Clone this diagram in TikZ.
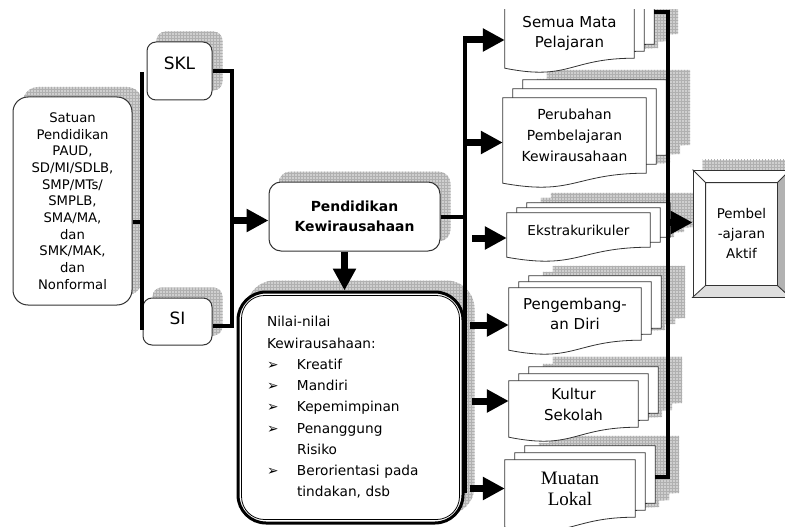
\documentclass[tikz,border=0pt]{standalone}
\usepackage{fontspec}
\setmainfont{DejaVu Sans}
\newfontfamily\lokalfont{Liberation Serif}
\usetikzlibrary{
    positioning,
    arrows.meta,
    calc,
    patterns
}
\pgfdeclarelayer{shade}
\pgfdeclarelayer{paper}
\pgfsetlayers{shade,paper,main}

\tikzset{
    hatch/.style={
        preaction={fill=gray!38}, pattern=grid, pattern color=gray!62
    },
    rbox/.style={
        draw=black!80, line width=1pt, fill=white, rounded corners=12pt,
        align=center
    },
    docnode/.style={
        rectangle, inner sep=0pt, align=center
    },
    docline/.style={
        draw=black!80, line width=0.8pt, fill=white
    },
    bar/.style={
        line width=4pt
    },
    bigarrow/.style={
        line width=7pt, -{Triangle[length=22pt, width=22pt]}
    }
}

% hatched shadow up and right of a box node
\newcommand{\boxshade}[2]{%
    \begin{pgfonlayer}{shade}
        \fill[gray!38, rounded corners=#2] ([shift={(10,-10)}]#1.north west) rectangle ([shift={(10,-10)}]#1.south east);
        \path[pattern=grid, pattern color=gray!62, rounded corners=#2] ([shift={(10,-10)}]#1.north west) rectangle ([shift={(10,-10)}]#1.south east);
    \end{pgfonlayer}
}

% one sheet of a document stack, shifted by (#2,#3)
\newcommand{\docpath}[3]{([shift={({#2},{#3})}]#1.north west) -- ([shift={({#2},{#3})}]#1.north east) -- ([shift={({#2},{#3})}]#1.south east) .. controls ([shift={({#2},{#3})}]#1.south) and ([shift={({#2},{#3+23})}]#1.south) .. ([shift={({#2},{#3+10})}]#1.south west) -- cycle}

% three sheets behind the text node #1, each raised by #2
\newcommand{\docstack}[2]{%
    \begin{pgfonlayer}{shade}
        \begin{scope}
            \clip (-10,10) rectangle (800,540);
            \foreach \k in {2,1,0}{\path[hatch] \docpath{#1}{\k*10+24}{-\k*#2-10};}
        \end{scope}
    \end{pgfonlayer}
    \begin{pgfonlayer}{paper}
        \begin{scope}
            \clip (-10,10) rectangle (800,540);
            \foreach \k in {2,1,0}{\draw[docline] \docpath{#1}{\k*10}{-\k*#2};}
        \end{scope}
    \end{pgfonlayer}
    \coordinate (#1 back) at ([xshift=20pt]#1.east);
}

\newcommand{\nbul}{\makebox[30pt][l]{➢}}

\begin{document}
\begin{tikzpicture}[x=1pt, y=-1pt, text=black]

    \useasboundingbox (0,0) rectangle (785,527);

    % LEFT BOXES
    \fill[gray!38, rounded corners=15pt] (23,87) rectangle (142,295);
    \path[pattern=grid, pattern color=gray!62, rounded corners=15pt] (23,87) rectangle (142,295);
    \node (satuan) [rbox, rounded corners=15pt, minimum width=119pt, minimum height=208pt,
        font=\fontsize{13.2}{16.7}\selectfont] at (72.5,201)
        {Satuan\\Pendidikan\\PAUD,\\SD/MI/SDLB,\\SMP/MTs/\\SMPLB,\\SMA/MA,\\dan\\SMK/MAK,\\dan\\Nonformal};
    \node (skl) [rbox, rounded corners=9pt, minimum width=65pt, minimum height=58pt,
        text depth=16pt, font=\fontsize{17}{20}\selectfont] at (179.5,71) {SKL};
    \boxshade{skl}{9pt}
    \node (si) [rbox, rounded corners=9pt, minimum width=69pt, minimum height=47pt,
        text depth=7pt, font=\fontsize{17}{20}\selectfont] at (177.5,321.5) {SI};
    \boxshade{si}{9pt}

    % MIDDLE
    \node (pendidikan) [rbox, minimum width=171pt, minimum height=69pt,
        font=\bfseries\fontsize{13.9}{20}\selectfont] at (354.5,216.5) {Pendidikan\\Kewirausahaan};
    \boxshade{pendidikan}{12pt}
    \node (nilai) [rbox, draw=black, line width=3pt, rounded corners=28pt,
        minimum width=225pt, minimum height=231pt, text width=167pt, align=left,
        font=\fontsize{13.7}{21.25}\selectfont] at (350.5,407.5)
        {Nilai-nilai\\Kewirausahaan:\\\nbul Kreatif\\\nbul Mandiri\\\nbul Kepemimpinan\\\nbul Penanggung\\\hspace*{30pt}Risiko\\\nbul Berorientasi pada\\\hspace*{30pt}tindakan, dsb};
    \boxshade{nilai}{28pt}
    \draw[line width=0.8pt, rounded corners=23pt] ([shift={(5,5)}]nilai.north west) rectangle ([shift={(-5,-5)}]nilai.south east);

    % DOCUMENTS
    \node (semua) [docnode, minimum width=129pt, minimum height=50pt,
        font=\fontsize{15}{20}\selectfont] at (569.5,33) {Semua Mata\\Pelajaran};
    \docstack{semua}{7}
    \node (perubahan) [docnode, minimum width=143pt, minimum height=75pt,
        font=\fontsize{13.9}{21}\selectfont] at (574.5,135.5) {Perubahan\\Pembelajaran\\Kewirausahaan};
    \docstack{perubahan}{9}
    \node (ekstra) [docnode, minimum width=143pt, minimum height=34pt,
        font=\fontsize{13.6}{20}\selectfont] at (578.5,230) {Ekstrakurikuler};
    \docstack{ekstra}{5}
    \node (pengembang) [docnode, minimum width=132pt, minimum height=52pt,
        font=\fontsize{15}{20}\selectfont] at (575,314) {Pengembang-\\an Diri};
    \docstack{pengembang}{6}
    \node (kultur) [docnode, minimum width=129pt, minimum height=46pt,
        font=\fontsize{15}{21}\selectfont] at (573.5,404) {Kultur\\Sekolah};
    \docstack{kultur}{7}
    \node (muatan) [docnode, minimum width=130pt, minimum height=57pt,
        font=\lokalfont\fontsize{19}{21}\selectfont] at (570,488.5) {Muatan\\Lokal};
    \docstack{muatan}{7}

    % OUTPUT BOX
    \node (aktif) [draw=black!80, line width=0.8pt, fill=white,
        minimum width=97pt, minimum height=127pt, align=center,
        font=\fontsize{13.4}{20}\selectfont] at (741.5,233.5) {Pembel\\-ajaran\\Aktif};
    \boxshade{aktif}{0pt}
    \coordinate (aktif in nw) at ([shift={(13,13)}]aktif.north west);
    \coordinate (aktif in ne) at ([shift={(-13,13)}]aktif.north east);
    \coordinate (aktif in sw) at ([shift={(13,-12)}]aktif.south west);
    \coordinate (aktif in se) at ([shift={(-13,-12)}]aktif.south east);
    \filldraw[fill=gray!25, draw=black!80, line width=0.8pt] (aktif.south west) -- (aktif.south east) -- (aktif in se) -- (aktif in sw) -- cycle;
    \filldraw[fill=gray!60, draw=black!80, line width=0.8pt] (aktif.north east) -- (aktif.south east) -- (aktif in se) -- (aktif in ne) -- cycle;
    \draw[black!80, line width=0.8pt] (aktif.north west) -- (aktif in nw) (aktif in nw) rectangle (aktif in se);

    % BUS LINES
    \coordinate (ltop) at (142,72);
    \coordinate (lbot) at (142,330);
    \coordinate (mbot) at (232,326);
    \coordinate (rtop) at (465,40);
    \coordinate (rbot) at (465,493);
    \coordinate (qtop) at (668,12);
    \coordinate (qbot) at (668,477);

    \draw[bar] (ltop) -- (lbot);
    \draw[bar] ($(satuan.east)+(0,21)$) -- ($(satuan.east -| ltop)+(0,21)$);
    \draw[bar] (skl.east) -- (skl.east -| mbot) -- (mbot) -- (si.east |- mbot);
    \draw[bar] (pendidikan.east) -- (pendidikan.east -| rtop);
    \draw[bar] (rtop) -- (rbot);
    \draw[bar] (semua back |- qtop) -- (qtop) -- (qbot) -- (muatan back |- qbot);

    % ARROWS
    \draw[bigarrow] ($(pendidikan.west -| mbot)+(0,4)$) -- ($(pendidikan.west)+(0,4)$);
    \draw[bigarrow] ($(pendidikan.south)+(-10,0)$) -- ($(pendidikan.south |- nilai.north)+(-10,0)$);
    \draw[bigarrow] ($(rtop)+(-2,0)$) -- (semua.west |- rtop);
    \draw[bigarrow] ($(perubahan.west -| rtop)+(0,7)$) -- ($(perubahan.west)+(0,7)$);
    \draw[bigarrow] ($(ekstra.west -| rtop)+(7,8)$) -- ($(ekstra.west)+(0,8)$);
    \draw[bigarrow] ($(pengembang.west -| rtop)+(5,11)$) -- ($(pengembang.west)+(0,11)$);
    \draw[bigarrow] ($(kultur.west -| rtop)+(7,-3)$) -- ($(kultur.west)+(0,-3)$);
    \draw[bigarrow] ($(muatan.west -| rtop)+(5,0)$) -- (muatan.west);
    \draw[bigarrow] ($(aktif.west -| qtop)+(0,-11)$) -- ($(aktif.west)+(0,-11)$);

\end{tikzpicture}
\end{document}
